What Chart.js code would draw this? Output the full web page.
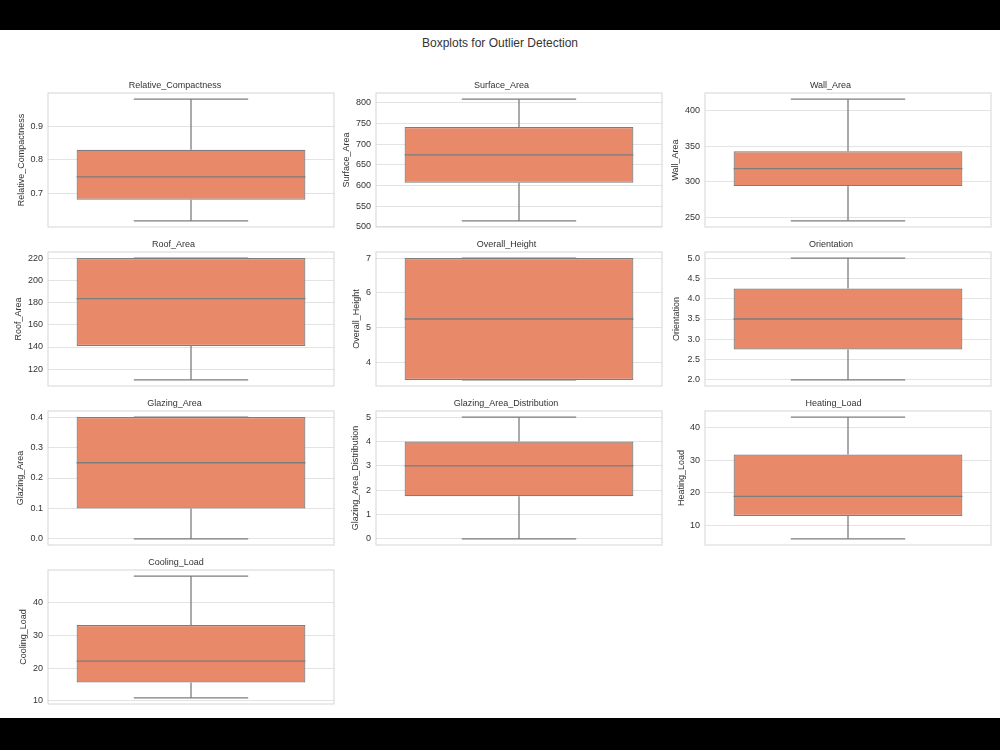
<!DOCTYPE html>
<html>
<head>
<meta charset="utf-8">
<script src="https://cdn.jsdelivr.net/npm/chart.js@4.4.1/dist/chart.umd.min.js"></script>
<style>
  html, body { margin: 0; padding: 0; background: #000; }
  #fig { position: absolute; left: 0; top: 30px; width: 1000px; height: 688px; background: #fff; }
  #suptitle { position: absolute; left: 0; width: 1000px; top: 36px; text-align: center;
              font: 12px "Liberation Sans", Arial, sans-serif; color: #333; }
  canvas { position: absolute; }
</style>
</head>
<body>
<div id="fig"></div>
<div id="suptitle">Boxplots for Outlier Detection</div>
<div id="plots"></div>
<script>
// Feature names and box statistics
const features = ['Relative_Compactness', 'Surface_Area', 'Wall_Area', 'Roof_Area', 'Overall_Height',
                  'Orientation', 'Glazing_Area', 'Glazing_Area_Distribution', 'Heating_Load', 'Cooling_Load'];
const mins    = [0.62, 514.5, 245.0, 110.25, 3.5, 2.0, 0.0, 0.0, 6.0, 10.9];
const q1s     = [0.6825, 606.4, 294.0, 140.9, 3.5, 2.75, 0.1, 1.75, 13.0, 15.6];
const medians = [0.75, 673.75, 318.5, 183.75, 5.25, 3.5, 0.25, 3.0, 18.95, 22.1];
const q3s     = [0.83, 741.1, 343.0, 220.5, 7.0, 4.25, 0.4, 4.0, 31.7, 33.1];
const maxs    = [0.98, 808.5, 416.5, 220.5, 7.0, 5.0, 0.4, 5.0, 43.1, 48.0];

// Axis limits
const axisMins = [0.602, 499.8, 236.4, 104.7, 3.325, 1.85, -0.02, -0.25, 4.15, 9.05];
const axisMaxs = [0.998, 823.2, 425.1, 226.0, 7.175, 5.15, 0.42, 5.25, 44.95, 49.85];

// Tick labels
const tickLabels = [
  ['0.7', '0.8', '0.9'],
  ['500', '550', '600', '650', '700', '750', '800'],
  ['250', '300', '350', '400'],
  ['120', '140', '160', '180', '200', '220'],
  ['4', '5', '6', '7'],
  ['2.0', '2.5', '3.0', '3.5', '4.0', '4.5', '5.0'],
  ['0.0', '0.1', '0.2', '0.3', '0.4'],
  ['0', '1', '2', '3', '4', '5'],
  ['10', '20', '30', '40'],
  ['10', '20', '30', '40']
];

// Layout of the 4x3 grid
const colLeft = [48, 376, 705];
const rowTop = [93, 252, 411, 570];
const plotW = 286;
const plotH = 134;
const labelX = [21.7, 346.7, 675, 18.3, 356.7, 676.7, 20, 355, 681.7, 23.3];

const FONT = '"Liberation Sans", Arial, sans-serif';
const boxColor = '#e8896a';
const lineColor = '#7d7d7d';

const boxPlugin = {
  id: 'boxExtras',
  beforeDatasetsDraw(chart) {
    const i = chart.config.options.plugins.boxExtras.index;
    const area = chart.chartArea;
    const ctx = chart.ctx;
    const y = chart.scales.y;
    const bar = chart.getDatasetMeta(0).data[0];
    const x = bar.x, w = bar.width;
    ctx.save();
    // plot frame
    ctx.strokeStyle = '#d6d6d6';
    ctx.lineWidth = 1;
    ctx.strokeRect(area.left, area.top, area.right - area.left, area.bottom - area.top);
    // whiskers and caps
    ctx.strokeStyle = lineColor;
    ctx.lineWidth = 1.3;
    ctx.beginPath();
    ctx.moveTo(x, y.getPixelForValue(q3s[i]));
    ctx.lineTo(x, y.getPixelForValue(maxs[i]));
    ctx.moveTo(x, y.getPixelForValue(q1s[i]));
    ctx.lineTo(x, y.getPixelForValue(mins[i]));
    ctx.moveTo(x - w / 4, y.getPixelForValue(maxs[i]));
    ctx.lineTo(x + w / 4, y.getPixelForValue(maxs[i]));
    ctx.moveTo(x - w / 4, y.getPixelForValue(mins[i]));
    ctx.lineTo(x + w / 4, y.getPixelForValue(mins[i]));
    ctx.stroke();
    ctx.restore();
  },
  afterDatasetsDraw(chart) {
    const i = chart.config.options.plugins.boxExtras.index;
    const ctx = chart.ctx;
    const y = chart.scales.y;
    const bar = chart.getDatasetMeta(0).data[0];
    const x = bar.x, w = bar.width;
    const ym = y.getPixelForValue(medians[i]);
    ctx.save();
    ctx.strokeStyle = lineColor;
    ctx.lineWidth = 1.3;
    ctx.beginPath();
    ctx.moveTo(x - w / 2, ym);
    ctx.lineTo(x + w / 2, ym);
    ctx.stroke();
    ctx.restore();
  }
};

features.forEach(function(name, i) {
  const row = Math.floor(i / 3), col = i % 3;
  const plotLeft = colLeft[col];
  const top = rowTop[row];
  const canvasLeft = Math.round(labelX[i] - 5.4);
  const canvasTop = top - 20;

  const canvas = document.createElement('canvas');
  canvas.width = plotLeft + plotW + 2 - canvasLeft;
  canvas.height = plotH + 22;
  canvas.style.left = canvasLeft + 'px';
  canvas.style.top = canvasTop + 'px';
  document.getElementById('plots').appendChild(canvas);

  const yAxisWidth = plotLeft - canvasLeft;
  const labels = tickLabels[i];

  new Chart(canvas.getContext('2d'), {
    type: 'bar',
    data: {
      labels: [name],
      datasets: [{
        data: [[q1s[i], q3s[i]]],
        backgroundColor: boxColor,
        borderColor: lineColor,
        borderWidth: 1.2,
        borderSkipped: false,
        barPercentage: 0.8,
        categoryPercentage: 1.0
      }]
    },
    plugins: [boxPlugin],
    options: {
      responsive: false,
      animation: false,
      layout: { padding: { left: 0, right: 2, top: 0, bottom: 2 } },
      plugins: {
        legend: { display: false },
        tooltip: { enabled: false },
        title: {
          display: true,
          text: name,
          color: '#333',
          font: { family: FONT, size: 9, weight: 'normal', lineHeight: 1.2 },
          padding: { top: 7.3, bottom: 1.9 }
        },
        boxExtras: { index: i }
      },
      scales: {
        x: { display: false },
        y: {
          min: axisMins[i],
          max: axisMaxs[i],
          afterBuildTicks: function(scale) {
            scale.ticks = labels.map(s => ({ value: parseFloat(s) }));
          },
          afterFit: function(scale) {
            scale.width = yAxisWidth;
            scale.paddingTop = 0;
            scale.paddingBottom = 0;
          },
          ticks: {
            color: '#333',
            font: { family: FONT, size: 9 },
            padding: 5,
            callback: function(value) {
              const match = labels.find(s => Math.abs(parseFloat(s) - value) < 1e-9);
              return match !== undefined ? match : '';
            }
          },
          grid: { color: '#e3e3e3', lineWidth: 1, drawTicks: false },
          border: { display: false },
          title: {
            display: true,
            text: name,
            color: '#333',
            font: { family: FONT, size: 9, lineHeight: 1.2 },
            padding: 0
          }
        }
      }
    }
  });
});
</script>
</body>
</html>
